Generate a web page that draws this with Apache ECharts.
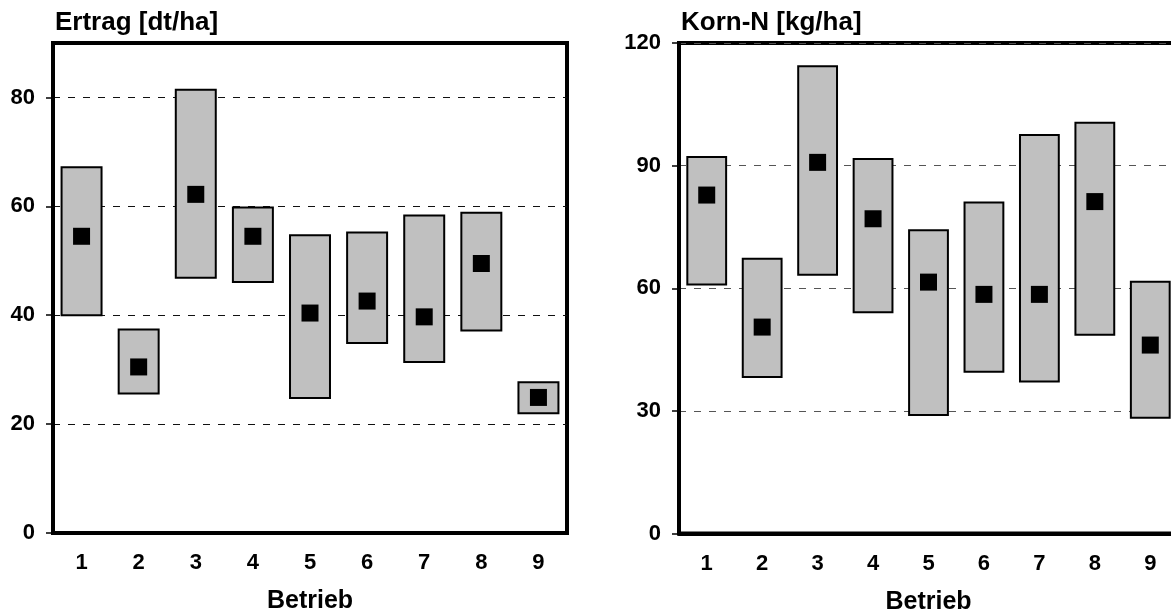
<!DOCTYPE html>
<html>
<head>
<meta charset="utf-8">
<script src="https://cdn.jsdelivr.net/npm/echarts@6/dist/echarts.min.js"></script>
<style>
  html, body { margin: 0; padding: 0; background: #fff; }
  #chart { width: 1171px; height: 613px; }
</style>
</head>
<body>
<div id="chart"></div>
<script>
// Betriebe (farms) on the x axis
const betriebe = ['1', '2', '3', '4', '5', '6', '7', '8', '9'];

// Ertrag [dt/ha]: range (min/max) and mean per farm
const ertragMin  = [40.0, 25.6, 46.9, 46.1, 24.8, 34.9, 31.4, 37.2, 22.0];
const ertragMax  = [67.2, 37.4, 81.4, 59.8, 54.7, 55.2, 58.3, 58.8, 27.7];
const ertragMean = [54.5, 30.5, 62.2, 54.5, 40.4, 42.6, 39.7, 49.5, 24.9];
const ertragTicks = [0, 20, 40, 60, 80];

// Korn-N [kg/ha]: range (min/max) and mean per farm
const kornNMin  = [60.9, 38.3, 63.3, 54.1, 29.0, 39.6, 37.2, 48.6, 28.3];
const kornNMax  = [92.1, 67.2, 114.3, 91.6, 74.2, 81.0, 97.5, 100.5, 61.6];
const kornNMean = [82.8, 50.5, 90.8, 77.0, 61.5, 58.5, 58.5, 81.2, 46.1];
const kornNTicks = [0, 30, 60, 90, 120];

const FONT = '"Liberation Sans", Arial, sans-serif';

// floating range box drawn through the axis scales
function rangeBox(params, api) {
  const lo = api.coord([api.value(0), api.value(1)]);
  const hi = api.coord([api.value(0), api.value(2)]);
  const w = api.size([1, 0])[0] * 0.7;
  return {
    type: 'rect',
    shape: { x: lo[0] - w / 2, y: hi[1], width: w, height: lo[1] - hi[1] },
    style: { fill: '#c0c0c0', stroke: '#000', lineWidth: 2 }
  };
}

function xAxisCfg(gridIndex) {
  return {
    type: 'category', gridIndex, data: betriebe,
    name: 'Betrieb', nameLocation: 'middle', nameGap: 56,
    nameTextStyle: { fontFamily: FONT, fontWeight: 'bold', fontSize: 25, color: '#000' },
    axisLine: { lineStyle: { color: '#000', width: 4 } },
    axisTick: { alignWithLabel: true, length: 7, lineStyle: { color: '#555', width: 1 } },
    axisLabel: { margin: 19, fontFamily: FONT, fontWeight: 'bold', fontSize: 22, color: '#000' },
    splitLine: { show: false }
  };
}

function yAxisCfg(gridIndex, max, interval, ticks, dashColor) {
  return {
    type: 'value', gridIndex, min: 0, max, interval,
    axisLine: { show: true, lineStyle: { color: '#000', width: 4 } },
    axisTick: { show: true, length: 7, customValues: ticks, lineStyle: { color: '#000', width: 1.5 } },
    axisLabel: { margin: 18, customValues: ticks, fontFamily: FONT, fontWeight: 'bold', fontSize: 22, color: '#000' },
    splitLine: { show: true, lineStyle: { color: dashColor, width: 1, type: [7, 8] } }
  };
}

function rangeData(lo, hi) { return lo.map((v, i) => [i, v, hi[i]]); }
function meanData(m) { return m.map((v, i) => [i, v]); }

const titleStyle = { fontFamily: FONT, fontWeight: 'bold', fontSize: 26, color: '#000' };

const chart = echarts.init(document.getElementById('chart'), null, { renderer: 'canvas' });
chart.setOption({
  animation: false,
  backgroundColor: '#fff',
  title: [
    { text: 'Ertrag [dt/ha]', left: 50, top: 5, textStyle: titleStyle },
    { text: 'Korn-N [kg/ha]', left: 676, top: 5, textStyle: titleStyle }
  ],
  grid: [
    { left: 53, top: 43, width: 514, height: 490, show: true, borderColor: '#000', borderWidth: 4,
      outerBoundsMode: 'none', containLabel: false },
    { left: 679, top: 43, width: 499, height: 490.5, show: true, borderColor: '#000', borderWidth: 4,
      outerBoundsMode: 'none', containLabel: false }
  ],
  xAxis: [xAxisCfg(0), xAxisCfg(1)],
  yAxis: [
    yAxisCfg(0, 90, 20, ertragTicks, '#111'),
    yAxisCfg(1, 120, 30, kornNTicks, '#555')
  ],
  series: [
    { type: 'custom', xAxisIndex: 0, yAxisIndex: 0, renderItem: rangeBox,
      encode: { x: 0, y: [1, 2] }, data: rangeData(ertragMin, ertragMax), z: 2 },
    { type: 'scatter', xAxisIndex: 0, yAxisIndex: 0, symbol: 'rect', symbolSize: 17,
      itemStyle: { color: '#000', opacity: 1 }, data: meanData(ertragMean), z: 3 },
    { type: 'custom', xAxisIndex: 1, yAxisIndex: 1, renderItem: rangeBox,
      encode: { x: 0, y: [1, 2] }, data: rangeData(kornNMin, kornNMax), z: 2 },
    { type: 'scatter', xAxisIndex: 1, yAxisIndex: 1, symbol: 'rect', symbolSize: 17,
      itemStyle: { color: '#000', opacity: 1 }, data: meanData(kornNMean), z: 3 }
  ]
});
</script>
</body>
</html>
